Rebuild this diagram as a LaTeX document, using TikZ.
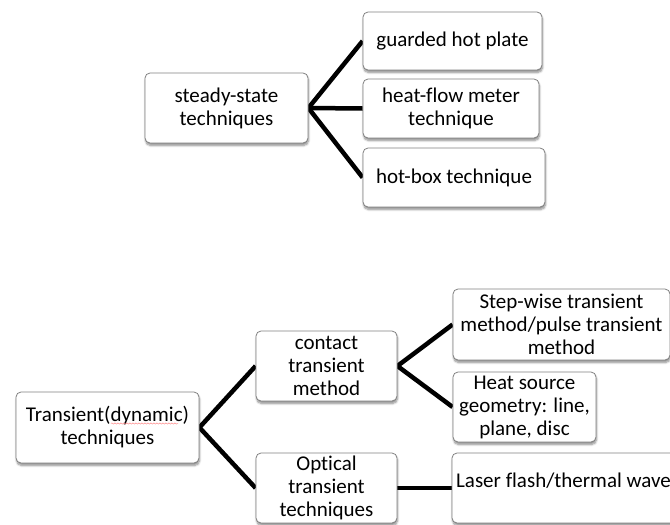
\documentclass[tikz,border=0pt]{standalone}
\usepackage{fontspec}
\setmainfont{Carlito}[Ligatures=NoCommon]
\usetikzlibrary{shadows.blur,backgrounds,decorations.pathmorphing}

\tikzset{
  box/.style={draw=black!50, line width=0.8pt, fill=white, rounded corners=5pt,
    align=center, inner sep=0pt,
    font=\fontsize{21}{23}\selectfont,
    blur shadow={shadow xshift=0.6pt, shadow yshift=-2.5pt, shadow blur steps=6,
      shadow blur radius=2pt, shadow opacity=45}},
  link/.style={line width=4.5pt, line join=miter, draw=black},
  lbl/.style={inner sep=0pt, align=center, font=\fontsize{21}{23}\selectfont}
}

\begin{document}
\begin{tikzpicture}[x=1pt, y=-1pt]
\useasboundingbox (0,0) rectangle (670,525);
\clip (0,0) rectangle (670,525);

% steady-state branch
\node[box, minimum width=163pt, minimum height=70pt] (ss) at (226.5,108) {steady-state\\techniques};
\node[box, minimum width=179pt, minimum height=58pt] (ghp) at (452.5,41) {guarded hot plate};
\node[box, minimum width=176pt, minimum height=59pt] (hfm) at (451,108.5) {heat-flow meter\\technique};
\node[box, minimum width=182pt, minimum height=59pt] (hbt) at (454,177.5) {hot-box technique};

% transient branch
\node[box, minimum width=183pt, minimum height=71pt] (tr) at (107.5,427.5) {Transient(dynamic)\\techniques};
\node[box, minimum width=141pt, minimum height=70pt] (ct) at (326.5,366) {contact\\transient\\method};
\node[box, minimum width=141pt, minimum height=70pt] (ot) at (326.5,488) {Optical\\transient\\techniques};
\node[box, minimum width=217pt, minimum height=71pt] (sw) at (561.5,324.5) {Step-wise transient\\method/pulse transient\\method};
\node[box, minimum width=143pt, minimum height=70pt] (hs) at (524.5,407) {Heat source\\geometry: line,\\plane, disc};
\node[box, minimum width=223pt, minimum height=70pt] (lf) at (563.5,488) {};
\node[lbl] (lft) at (563.5,481) {Laser flash/thermal wave};

% spell-check squiggle under "dynamic"
\coordinate (sq1) at (111,423.5);
\coordinate (sq2) at (178,423.5);
\draw[red!45, line width=0.5pt, decorate,
  decoration={snake, amplitude=0.6pt, segment length=3pt}] (sq1) -- (sq2);

% connectors, kept behind the boxes
\begin{scope}[on background layer]
  \draw[link] (ghp.west) -- (ss.east) -- (hbt.west);
  \draw[link] (ss.east) -- (hfm.west);
  \draw[link] (ct.west) -- (tr.east) -- (ot.west);
  \draw[link] (sw.west) -- (ct.east) -- (hs.west);
  \draw[link] (ot.east) -- (lf.west);
\end{scope}
\end{tikzpicture}
\end{document}
